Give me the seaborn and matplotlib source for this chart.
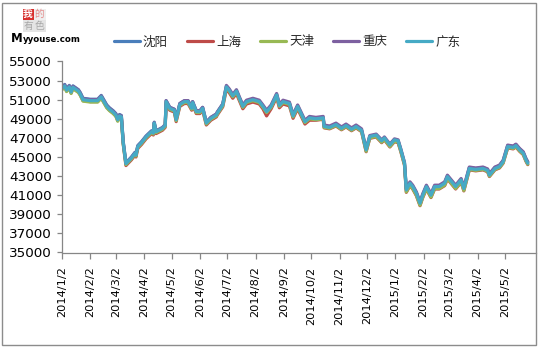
import matplotlib
matplotlib.use("Agg")
import matplotlib.pyplot as plt
from matplotlib.patches import Rectangle
import pandas as pd
import seaborn as sns

# ---- data -------------------------------------------------------------
cities = ["沈阳", "上海", "天津", "重庆", "广东"]
colors = ["#4A7EBB", "#BE4B48", "#98B954", "#7D60A0", "#46AAC5"]

dates = [
    "2014-01-02", "2014-01-05", "2014-01-07", "2014-01-10", "2014-01-12", "2014-01-14",
    "2014-01-17", "2014-01-20", "2014-01-22", "2014-01-25", "2014-02-02", "2014-02-10",
    "2014-02-14", "2014-02-17", "2014-02-20", "2014-02-23", "2014-02-27", "2014-03-02",
    "2014-03-04", "2014-03-06", "2014-03-08", "2014-03-10", "2014-03-13", "2014-03-16",
    "2014-03-19", "2014-03-23", "2014-03-24", "2014-03-26", "2014-03-30", "2014-04-04",
    "2014-04-10", "2014-04-12", "2014-04-13", "2014-04-15", "2014-04-19", "2014-04-22",
    "2014-04-25", "2014-04-26", "2014-04-30", "2014-05-05", "2014-05-07", "2014-05-11",
    "2014-05-16", "2014-05-20", "2014-05-24", "2014-05-25", "2014-05-29", "2014-06-02",
    "2014-06-05", "2014-06-09", "2014-06-14", "2014-06-20", "2014-06-21", "2014-06-27",
    "2014-07-01", "2014-07-04", "2014-07-08", "2014-07-12", "2014-07-15", "2014-07-19",
    "2014-07-23", "2014-07-30", "2014-08-06", "2014-08-10", "2014-08-14", "2014-08-19",
    "2014-08-25", "2014-08-28", "2014-09-01", "2014-09-08", "2014-09-12", "2014-09-17",
    "2014-09-25", "2014-09-30", "2014-10-07", "2014-10-15", "2014-10-16", "2014-10-22",
    "2014-10-29", "2014-11-04", "2014-11-09", "2014-11-15", "2014-11-20", "2014-11-26",
    "2014-12-01", "2014-12-05", "2014-12-12", "2014-12-18", "2014-12-21", "2014-12-27",
    "2015-01-01", "2015-01-05", "2015-01-08", "2015-01-12", "2015-01-14", "2015-01-18",
    "2015-01-21", "2015-01-25", "2015-01-29", "2015-02-01", "2015-02-05", "2015-02-10",
    "2015-02-14", "2015-02-19", "2015-02-25", "2015-02-28", "2015-03-06", "2015-03-09",
    "2015-03-15", "2015-03-18", "2015-03-24", "2015-03-31", "2015-04-08", "2015-04-13",
    "2015-04-15", "2015-04-21", "2015-04-26", "2015-04-30", "2015-05-05", "2015-05-11",
    "2015-05-14", "2015-05-18", "2015-05-22", "2015-05-25", "2015-05-27",
]

shenyang = [
    52350, 52600, 52150, 52500, 51950, 52450, 52250, 52050, 51750, 51150, 51050, 51050,
    51450, 50950, 50450, 50150, 49850, 49550, 49050, 49450, 49350, 46650,
    44400, 44700, 45000, 45500, 45300, 46200, 46600, 47200, 47750, 47600, 48650, 47750,
    47950, 48100, 48400,
    50900, 50200, 50000, 49000, 50600, 50900, 50900, 50200, 50800, 49850, 49850, 50200,
    48650, 49150, 49500, 49700, 50550,
    52400, 52050, 51450, 51950, 51250, 50350, 50850, 51050, 50850, 50350, 49800, 50350,
    51550, 50450, 50850, 50650, 49350, 50350, 48750, 49150,
    49000, 49100, 48200, 48100, 48400, 48000, 48300, 47900, 48200, 47800,
    45750, 47150, 47300, 46700, 47000, 46250, 46800, 46700, 45750, 44350,
    41600, 42300, 41950, 41250, 40200, 41050, 41950, 41050, 41950, 41950, 42300, 43000,
    42300, 41950, 42650, 41750,
    43900, 43800, 43900, 43700, 43200, 43900, 44100, 44600, 46200, 46100, 46300, 45850,
    45500, 44800, 44450,
]

shanghai = [
    52100, 52350, 51900, 52250, 51700, 52200, 52000, 51800, 51500, 50900, 50800, 50800,
    51200, 50700, 50200, 49900, 49600, 49300, 48800, 49200, 49100, 46400,
    44100, 44400, 44700, 45200, 45000, 45900, 46300, 46900, 47450, 47300, 48350, 47450,
    47650, 47800, 48100,
    50600, 49900, 49700, 48700, 50300, 50600, 50600, 49900, 50500, 49550, 49550, 49900,
    48350, 48850, 49200, 49400, 50250,
    52100, 51750, 51150, 51650, 50950, 50050, 50550, 50750, 50550, 50050, 49300, 50050,
    51250, 50150, 50550, 50350, 49050, 50050, 48450, 48850,
    48850, 48950, 48050, 47950, 48250, 47850, 48150, 47750, 48050, 47650,
    45550, 46950, 47100, 46500, 46800, 46050, 46600, 46500, 45550, 44150,
    41300, 42000, 41650, 40950, 39900, 40750, 41650, 40750, 41650, 41650, 42000, 42700,
    42000, 41650, 42350, 41450,
    43650, 43550, 43650, 43450, 42950, 43650, 43850, 44350, 45950, 45850, 46050, 45600,
    45250, 44550, 44200,
]

tianjin = [
    52050, 52300, 51850, 52200, 51650, 52150, 51950, 51750, 51450, 50850, 50750, 50750,
    51150, 50650, 50150, 49850, 49550, 49250, 48750, 49150, 49050, 46350,
    44200, 44500, 44800, 45300, 45100, 46000, 46400, 47000, 47550, 47400, 48450, 47550,
    47750, 47900, 48200,
    50700, 50000, 49800, 48800, 50400, 50700, 50700, 50000, 50600, 49650, 49650, 50000,
    48450, 48950, 49300, 49500, 50350,
    52250, 51900, 51300, 51800, 51100, 50200, 50700, 50900, 50700, 50200, 49650, 50200,
    51400, 50300, 50700, 50500, 49200, 50200, 48600, 49000,
    48900, 49000, 48100, 48000, 48300, 47900, 48200, 47800, 48100, 47700,
    45600, 47000, 47150, 46550, 46850, 46100, 46650, 46550, 45600, 44200,
    41350, 42050, 41700, 41000, 39950, 40800, 41700, 40800, 41700, 41700, 42050, 42750,
    42050, 41700, 42400, 41500,
    43700, 43600, 43700, 43500, 43000, 43700, 43900, 44400, 46000, 45900, 46100, 45650,
    45300, 44600, 44250,
]

chongqing = [
    52300, 52550, 52100, 52450, 51900, 52400, 52200, 52000, 51700, 51100, 51000, 51000,
    51400, 50900, 50400, 50100, 49800, 49500, 49000, 49400, 49300, 46600,
    44350, 44650, 44950, 45450, 45250, 46150, 46550, 47150, 47700, 47550, 48600, 47700,
    47900, 48050, 48350,
    50900, 50200, 50000, 49000, 50600, 50900, 50900, 50200, 50800, 49850, 49850, 50200,
    48650, 49150, 49500, 49700, 50550,
    52500, 52150, 51550, 52050, 51350, 50450, 50950, 51150, 50950, 50450, 49900, 50450,
    51650, 50550, 50950, 50750, 49450, 50450, 48850, 49250,
    49150, 49250, 48350, 48250, 48550, 48150, 48450, 48050, 48350, 47950,
    45850, 47250, 47400, 46800, 47100, 46350, 46900, 46800, 45850, 44450,
    41700, 42400, 42050, 41350, 40300, 41150, 42050, 41150, 42050, 42050, 42400, 43100,
    42400, 42050, 42750, 41850,
    43950, 43850, 43950, 43750, 43250, 43950, 44150, 44650, 46250, 46150, 46350, 45900,
    45550, 44850, 44500,
]

guangdong = [
    52200, 52450, 52000, 52350, 51800, 52300, 52100, 51900, 51600, 51000, 50900, 50900,
    51300, 50800, 50300, 50000, 49700, 49400, 48900, 49300, 49200, 46500,
    44300, 44600, 44900, 45400, 45200, 46100, 46500, 47100, 47650, 47500, 48550, 47650,
    47850, 48000, 48300,
    50800, 50100, 49900, 48900, 50500, 50800, 50800, 50100, 50700, 49750, 49750, 50100,
    48550, 49050, 49400, 49600, 50450,
    52350, 52000, 51400, 51900, 51200, 50300, 50800, 51000, 50800, 50300, 49750, 50300,
    51500, 50400, 50800, 50600, 49300, 50300, 48700, 49100,
    49000, 49100, 48200, 48100, 48400, 48000, 48300, 47900, 48200, 47800,
    45750, 47150, 47300, 46700, 47000, 46250, 46800, 46700, 45750, 44350,
    41550, 42250, 41900, 41200, 40150, 41000, 41900, 41000, 41900, 41900, 42250, 42950,
    42250, 41900, 42600, 41700,
    43800, 43700, 43800, 43600, 43100, 43800, 44000, 44500, 46100, 46000, 46200, 45750,
    45400, 44700, 44350,
]

tick_dates = [
    "2014-01-02", "2014-02-02", "2014-03-02", "2014-04-02", "2014-05-02", "2014-06-02",
    "2014-07-02", "2014-08-02", "2014-09-02", "2014-10-02", "2014-11-02", "2014-12-02",
    "2015-01-02", "2015-02-02", "2015-03-02", "2015-04-02", "2015-05-02",
]
y_ticks = list(range(35000, 55001, 2000))

# ---- long-form table ---------------------------------------------------
series = {"沈阳": shenyang, "上海": shanghai, "天津": tianjin, "重庆": chongqing, "广东": guangdong}
frames = []
for name in cities:
    frames.append(pd.DataFrame({"日期": pd.to_datetime(dates), "价格": series[name], "地区": name}))
df = pd.concat(frames, ignore_index=True)

# ---- figure ------------------------------------------------------------
sns.set_theme(style="white")
plt.rcParams["font.family"] = ["DejaVu Sans", "Noto Sans CJK SC"]

W, H = 540, 347
fig = plt.figure(figsize=(W / 100, H / 100), dpi=100)
fig.patch.set_facecolor("white")

ax = fig.add_axes([62 / W, 1 - 252.5 / H, (536 - 62) / W, (252.5 - 61.5) / H])

sns.lineplot(data=df, x="日期", y="价格", hue="地区", hue_order=cities,
             palette=colors, linewidth=2.3, ax=ax, legend=False, estimator=None,
             sort=False)

ax.set_ylim(35000, 55000)
ax.set_yticks(y_ticks)
ax.set_yticklabels([str(v) for v in y_ticks])
ax.set_xlim(pd.Timestamp("2014-01-02"), pd.Timestamp("2015-06-05"))
tks = pd.to_datetime(tick_dates)
ax.set_xticks(tks)
ax.set_xticklabels([f"{d.year}/{d.month}/{d.day}" for d in tks], rotation=90)
ax.set_xlabel("")
ax.set_ylabel("")

for s in ["top", "right"]:
    ax.spines[s].set_visible(False)
for s in ["left", "bottom"]:
    ax.spines[s].set_color("#868686")
    ax.spines[s].set_linewidth(0.9)
ax.tick_params(axis="y", direction="out", length=3.5, width=0.9, color="#868686",
               labelsize=9.7, pad=4, labelcolor="#000000", left=True)
ax.tick_params(axis="x", direction="out", length=4, width=0.9, color="#868686",
               labelsize=8.2, pad=6, labelcolor="#000000", bottom=True)
ax.grid(False)

# legend across the top
handles = [plt.Line2D([0], [0], color=c, lw=2.3) for c in colors]
fig.legend(handles, cities, loc="center", bbox_to_anchor=(287 / W, 1 - 42 / H),
           ncol=5, frameon=False, handlelength=2.1, handletextpad=0.25,
           columnspacing=1.5, prop={"family": ["Noto Sans CJK SC"], "size": 9})

# chart-area border
fig.add_artist(Rectangle((1.5 / W, 2.5 / H), (536 - 1.5) / W, (344.5 - 2.5) / H,
                         transform=fig.transFigure, fill=False,
                         edgecolor="#8c8c8c", linewidth=1.0))

# site logo
def box(x0, y0, x1, y1, fc):
    fig.add_artist(Rectangle((x0 / W, 1 - y1 / H), (x1 - x0) / W, (y1 - y0) / H,
                             transform=fig.transFigure, facecolor=fc, edgecolor="none"))

box(22.5, 8.5, 33.5, 19.5, "#d8302e")
box(33.5, 8.5, 45.5, 19.5, "#eeeeee")
box(22.5, 20.5, 45.5, 32, "#e4e4e4")
cjk = ["Noto Sans CJK SC"]
fig.text(28 / W, 1 - 14 / H, "我", ha="center", va="center", color="white",
         fontsize=7, fontweight="bold", family=cjk)
fig.text(39.5 / W, 1 - 14 / H, "的", ha="center", va="center", color="#e58f8f",
         fontsize=7, family=cjk)
fig.text(28 / W, 1 - 26 / H, "有", ha="center", va="center", color="#a8a8a8",
         fontsize=7, family=cjk)
fig.text(39.5 / W, 1 - 26 / H, "色", ha="center", va="center", color="#a8a8a8",
         fontsize=7, family=cjk)
fig.text(11 / W, 1 - 38.5 / H, "M", ha="left", va="center", color="black",
         fontsize=8.5, fontweight="bold", family=["DejaVu Sans"])
fig.text(22.5 / W, 1 - 39 / H, "yyouse.com", ha="left", va="center", color="black",
         fontsize=6.2, fontweight="bold", family=["DejaVu Sans"])

fig.savefig("out.png", dpi=100, facecolor="white")
